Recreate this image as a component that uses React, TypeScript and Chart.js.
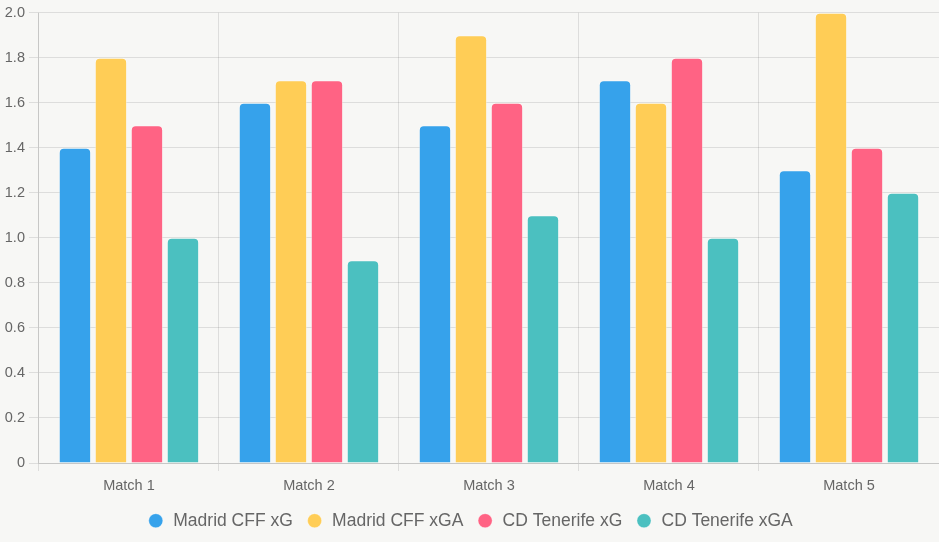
import React, { useEffect, useRef } from "react";
import { Chart, registerables } from "chart.js";

Chart.register(...registerables);

const categories = ["Match 1", "Match 2", "Match 3", "Match 4", "Match 5"];
const madridXG = [1.4, 1.6, 1.5, 1.7, 1.3];
const madridXGA = [1.8, 1.7, 1.9, 1.6, 2.0];
const tenerifeXG = [1.5, 1.7, 1.6, 1.8, 1.4];
const tenerifeXGA = [1.0, 0.9, 1.1, 1.0, 1.2];
const seriesNames = ["Madrid CFF xG", "Madrid CFF xGA", "CD Tenerife xG", "CD Tenerife xGA"];
const seriesColors = ["#36A2EB", "#FFCD56", "#FF6384", "#4BC0C0"];

export default function App() {
  const ref = useRef<HTMLCanvasElement | null>(null);
  useEffect(() => {
    document.body.style.margin = "0";
    document.body.style.background = "#f7f7f5";
    Chart.defaults.font.family = "'Liberation Sans', Arial, sans-serif";
    const values = [madridXG, madridXGA, tenerifeXG, tenerifeXGA];
    const chart = new Chart(ref.current!, {
      type: "bar",
      data: {
        labels: categories,
        datasets: values.map((v, i) => ({
          label: seriesNames[i],
          data: v,
          backgroundColor: seriesColors[i],
          borderColor: "rgba(255,255,255,0.35)",
          borderWidth: 1,
          borderRadius: 5,
        })),
      },
      options: {
        animation: false,
        responsive: true,
        maintainAspectRatio: false,
        layout: { padding: { top: 3.5, right: 0, bottom: 2.5, left: 0.8 } },
        plugins: {
          legend: {
            position: "bottom",
            labels: {
              usePointStyle: true,
              pointStyle: "circle",
              boxWidth: 18,
              boxHeight: 10,
              color: "#666",
              font: { size: 17.5 },
              padding: 13,
            },
          },
          tooltip: { enabled: false },
        },
        scales: {
          x: {
            ticks: { color: "#666", font: { size: 14.5 }, padding: 6 },
            grid: { color: "rgba(0,0,0,0.1)" },
            afterFit: (scale: any) => {
              scale.height -= 1.4;
            },
          },
          y: {
            min: 0,
            max: 2,
            ticks: { color: "#666", font: { size: 14.5 }, stepSize: 0.2, padding: 4 },
            grid: { color: "rgba(0,0,0,0.1)", tickLength: 10 },
          },
        },
      },
    });
    return () => chart.destroy();
  }, []);
  return (
    <div style={{ width: 939, height: 542, position: "relative" }}>
      <canvas ref={ref} />
    </div>
  );
}
